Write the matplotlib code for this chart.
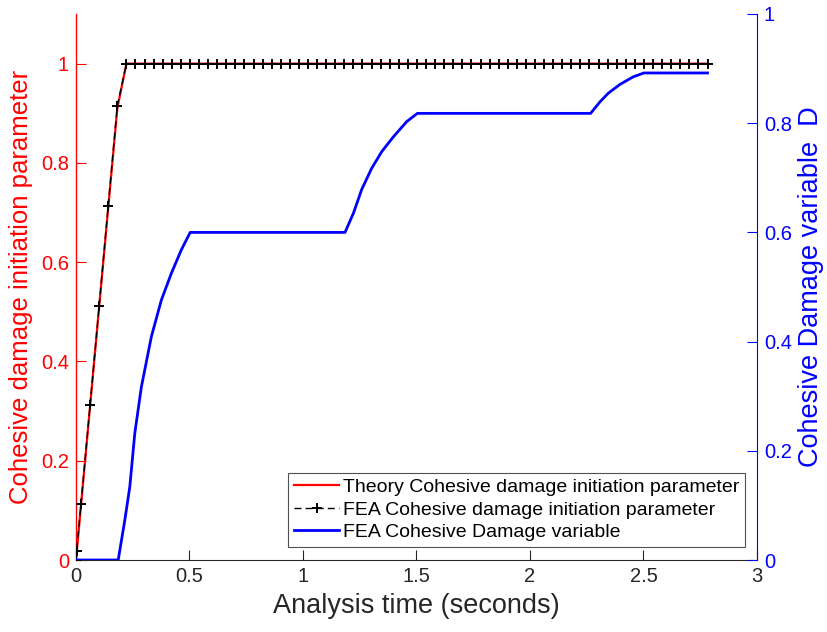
import matplotlib
matplotlib.use("Agg")
import matplotlib.pyplot as plt

plt.rcParams['font.family'] = ['Liberation Sans', 'DejaVu Sans']

# FEA / theory damage initiation parameter (left axis)
fea_time = [0.0, 0.003, 0.022, 0.062, 0.102, 0.142, 0.182, 0.222, 0.262, 0.302,
            0.342, 0.382, 0.422, 0.462, 0.502, 0.542, 0.582, 0.622, 0.662, 0.702,
            0.742, 0.782, 0.822, 0.862, 0.902, 0.942, 0.982, 1.022, 1.062, 1.102,
            1.142, 1.182, 1.222, 1.262, 1.302, 1.342, 1.382, 1.422, 1.462, 1.502,
            1.542, 1.582, 1.622, 1.662, 1.702, 1.742, 1.782, 1.822, 1.862, 1.902,
            1.942, 1.982, 2.022, 2.062, 2.102, 2.142, 2.182, 2.222, 2.262, 2.302,
            2.342, 2.382, 2.422, 2.462, 2.502, 2.542, 2.582, 2.622, 2.662, 2.702,
            2.742, 2.782]
fea_init = [0.0, 0.019, 0.113, 0.312, 0.512, 0.714, 0.915] + [1.0] * 65
theory_time = fea_time
theory_init = [0.0, 0.015, 0.11, 0.31, 0.51, 0.71, 0.91] + [1.0] * 65

# FEA cohesive damage variable (right axis)
dmg_time = [0.0, 0.186, 0.215, 0.237, 0.259, 0.288, 0.332, 0.376, 0.42, 0.464,
            0.503, 1.185, 1.222, 1.258, 1.302, 1.347, 1.398, 1.457, 1.504,
            2.267, 2.308, 2.345, 2.396, 2.455, 2.502, 2.782]
dmg_val = [0.0, 0.0, 0.073, 0.134, 0.232, 0.317, 0.409, 0.476, 0.525, 0.568,
           0.6, 0.6, 0.635, 0.678, 0.717, 0.748, 0.775, 0.803, 0.818,
           0.818, 0.839, 0.855, 0.871, 0.885, 0.892, 0.892]

x_ticks = [0, 0.5, 1, 1.5, 2, 2.5, 3]
x_tick_labels = ['0', '0.5', '1', '1.5', '2', '2.5', '3']
left_ticks = [0, 0.2, 0.4, 0.6, 0.8, 1]
left_tick_labels = ['0', '0.2', '0.4', '0.6', '0.8', '1']
right_ticks = [0, 0.2, 0.4, 0.6, 0.8, 1]
right_tick_labels = ['0', '0.2', '0.4', '0.6', '0.8', '1']

RED = (1, 0, 0)
BLUE = (0, 0, 1)
DARK = '#262626'

fig = plt.figure(figsize=(8.28, 6.32), dpi=100)
ax = fig.add_axes([76/828, 72/632, 681/828, 546/632])
ax2 = ax.twinx()

l1, = ax.plot(theory_time, theory_init, color=RED, lw=1.6,
              label='Theory Cohesive damage initiation parameter', zorder=2)
l2, = ax.plot(fea_time, fea_init, color='black', lw=1.0, ls=(0, (5, 3)),
              marker='+', ms=7, mew=1.4,
              label='FEA Cohesive damage initiation parameter', zorder=3)
l3, = ax2.plot(dmg_time, dmg_val, color=BLUE, lw=2.0,
               label='FEA Cohesive Damage variable')

ax.set_xlim(0, 3)
ax.set_ylim(0, 1.1)
ax2.set_ylim(0, 1)

ax.set_xticks(x_ticks)
ax.set_xticklabels(x_tick_labels)
ax.set_yticks(left_ticks)
ax.set_yticklabels(left_tick_labels)
ax2.set_yticks(right_ticks)
ax2.set_yticklabels(right_tick_labels)

for a in (ax, ax2):
    a.spines['top'].set_visible(False)
ax.spines['right'].set_visible(False)
ax2.spines['left'].set_visible(False)
ax2.spines['bottom'].set_visible(False)
ax.spines['left'].set_color(RED)
ax.spines['left'].set_linewidth(1.0)
ax.spines['bottom'].set_color(DARK)
ax2.spines['right'].set_color(BLUE)

ax.tick_params(axis='x', direction='in', length=7, colors=DARK, labelsize=14.5, pad=5)
ax.tick_params(axis='y', direction='in', length=7, colors=RED, labelsize=14.5, pad=5)
ax2.tick_params(axis='y', direction='in', length=7, colors=BLUE, labelsize=14.5, pad=5)

ax.set_xlabel('Analysis time (seconds)', fontsize=19.5, color=DARK, labelpad=5)
ax.set_ylabel('Cohesive damage initiation parameter', fontsize=18.5, color=RED, labelpad=6)
ax2.set_ylabel('Cohesive Damage variable  D', fontsize=19.5, color=BLUE, labelpad=4)

leg = ax2.legend(handles=[l1, l2, l3], loc='lower right',
                 bbox_to_anchor=(0.9824, 0.0238), fontsize=14,
                 frameon=True, fancybox=False, edgecolor=DARK,
                 handlelength=2.3, handletextpad=0.2, borderpad=0.3,
                 labelspacing=0.25, borderaxespad=0, numpoints=1)
leg.get_frame().set_linewidth(0.8)

fig.savefig('out.png', dpi=100)
